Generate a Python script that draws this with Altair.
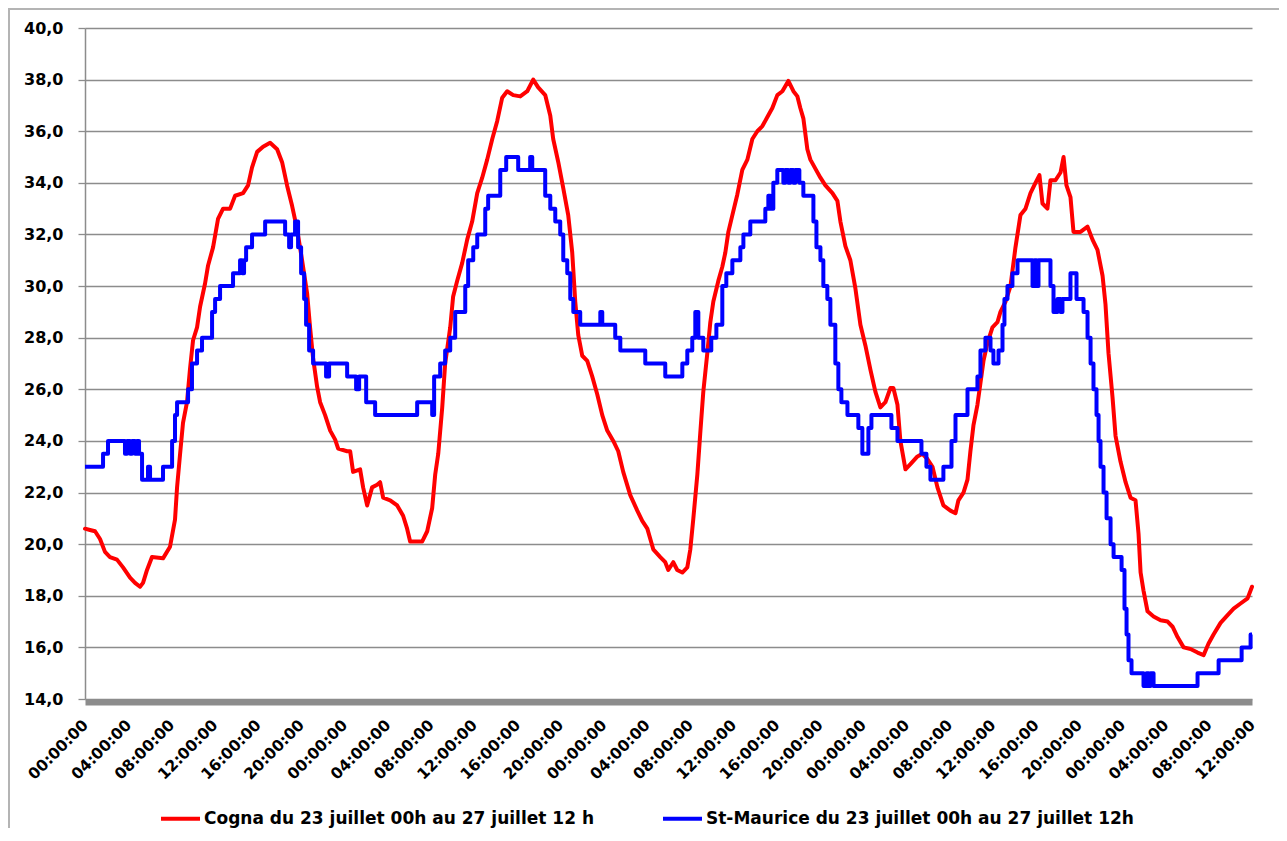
import altair as alt
import pandas as pd

# Time in hours since 23 July 00:00; temperatures in degrees C
red_t = [0.00,0.46,0.93,1.39,1.85,2.31,2.96,3.52,4.17,4.63,5.09,5.37,5.74,6.20,7.22,7.87,
         8.33,8.52,8.80,9.07,9.44,9.72,10.00,10.37,10.65,11.11,11.39,11.85,12.31,12.78,13.43,13.89,14.63,15.09,
         15.46,15.93,16.48,17.13,17.78,18.24,18.70,19.17,19.63,20.09,20.56,20.83,21.11,21.48,21.76,22.22,22.69,23.15,23.43,
         24.26,24.54,24.81,25.46,25.74,26.11,26.57,27.04,27.31,27.59,28.24,28.89,29.44,29.81,30.09,30.74,31.20,31.67,
         32.13,32.41,32.69,33.06,33.33,33.80,34.07,34.44,34.91,35.37,35.83,36.30,36.76,37.22,37.69,38.15,38.61,
         39.07,39.63,40.28,40.93,41.48,41.94,42.59,43.06,43.33,43.80,44.26,44.72,45.09,45.37,45.65,46.02,46.48,46.94,
         47.41,47.87,48.33,48.89,49.35,49.81,50.46,51.11,51.57,52.04,52.59,53.24,53.70,53.98,54.44,54.81,55.28,55.74,
         56.02,56.30,56.67,56.94,57.22,57.59,57.87,58.15,58.61,58.98,59.26,59.54,59.91,60.37,60.83,61.30,61.76,62.22,62.69,63.15,
         63.61,64.07,64.54,65.09,65.56,65.93,66.20,66.48,66.85,67.13,67.59,68.06,68.52,69.17,69.63,69.91,70.37,70.83,71.30,
         71.76,72.22,72.69,73.15,73.61,74.07,74.54,74.81,75.19,75.46,75.93,76.39,77.04,77.50,77.96,78.43,78.89,
         79.44,80.09,80.56,80.83,81.30,81.67,81.94,82.22,82.59,82.87,83.15,83.52,83.98,84.44,84.72,85.19,85.65,
         86.11,86.57,87.04,87.50,87.96,88.33,88.61,89.07,89.35,89.81,90.28,90.56,90.83,91.20,91.48,92.13,92.78,93.24,93.70,
         94.17,94.44,94.72,95.09,95.37,95.83,96.30,96.76,97.22,97.50,97.69,97.96,98.33,98.89,99.54,100.19,100.65,
         101.11,101.67,102.31,102.96,103.52,103.98,104.44,105.09,105.74,106.30,106.94,107.59,108.00]
red_v = [20.6,20.55,20.5,20.2,19.7,19.5,19.4,19.1,18.7,18.5,18.35,18.5,19.0,19.5,19.45,19.9,
         20.95,22.2,23.5,24.7,25.5,26.8,27.9,28.4,29.2,30.1,30.8,31.5,32.6,33.0,33.0,33.5,33.6,33.9,
         34.6,35.2,35.4,35.55,35.3,34.8,33.9,33.1,32.2,31.0,29.7,28.4,27.2,26.1,25.5,25.0,24.4,24.05,23.7,
         23.6,23.6,22.8,22.9,22.2,21.5,22.2,22.3,22.4,21.8,21.7,21.5,21.1,20.6,20.1,20.1,20.1,20.5,
         21.4,22.7,23.5,25.3,27.0,28.4,29.6,30.2,30.9,31.8,32.5,33.6,34.2,34.9,35.7,36.4,37.3,
         37.55,37.4,37.35,37.55,38.0,37.7,37.4,36.6,35.7,34.8,33.8,32.75,31.3,29.4,28.1,27.3,27.1,26.5,
         25.8,25.0,24.4,24.0,23.6,22.8,21.9,21.3,20.9,20.6,19.8,19.5,19.3,19.0,19.3,19.0,18.9,19.1,
         19.8,21.0,22.7,24.3,25.9,27.4,28.6,29.4,30.2,30.75,31.3,32.1,32.75,33.55,34.5,34.9,35.7,36.0,36.2,36.55,
         36.9,37.4,37.55,37.95,37.55,37.35,36.9,36.5,35.3,34.9,34.55,34.2,33.9,33.6,33.3,32.5,31.55,31.0,29.9,
         28.5,27.7,26.75,25.9,25.3,25.5,26.05,26.05,25.4,24.0,22.9,23.1,23.4,23.5,23.3,23.0,22.2,
         21.5,21.3,21.2,21.7,22.0,22.5,23.6,24.6,25.4,26.25,27.1,27.8,28.4,28.6,29.0,29.4,30.0,
         31.5,32.75,33.0,33.6,34.0,34.3,33.2,33.0,34.1,34.1,34.4,35.0,33.9,33.45,32.1,32.1,32.3,31.8,31.4,
         30.4,29.3,27.4,25.7,24.2,23.2,22.4,21.8,21.7,20.4,18.9,18.2,17.4,17.2,17.05,17.0,16.8,
         16.4,16.0,15.94,15.8,15.7,16.15,16.5,16.95,17.25,17.5,17.7,17.9,18.35]

blue_t = [0.00,1.67,2.13,3.70,3.89,4.17,4.35,4.63,4.81,5.00,5.28,5.83,6.02,7.22,8.06,8.33,8.52,9.54,9.90,10.37,
          10.83,11.76,12.04,12.50,13.70,14.35,14.54,14.72,14.91,15.46,16.67,18.52,18.89,19.07,19.44,19.72,20.00,20.28,20.46,20.74,
          21.11,22.31,22.59,24.26,25.09,25.37,26.02,26.85,30.74,32.13,32.31,32.87,33.33,33.80,34.26,35.19,35.46,35.93,36.30,37.04,
          37.31,38.43,38.98,40.09,41.20,41.39,42.59,43.06,43.52,43.98,44.26,44.63,44.91,45.19,45.83,47.69,47.87,49.07,49.54,51.85,
          53.70,55.28,55.74,56.20,56.48,56.76,57.22,57.96,58.43,58.98,59.35,59.91,60.65,60.93,61.57,62.96,63.24,63.43,63.70,64.07,
          64.63,64.81,65.09,65.28,65.56,65.74,66.11,66.48,67.41,67.69,68.06,68.33,68.70,68.98,69.44,69.72,70.00,70.56,71.57,71.94,
          72.50,72.78,74.63,75.19,77.41,77.87,78.24,79.44,80.19,80.56,81.67,82.59,82.87,83.33,83.80,84.07,84.54,84.91,85.09,85.37,
          85.83,86.30,87.69,87.87,88.06,88.24,89.35,89.63,90.00,90.28,90.46,91.20,91.76,92.41,92.78,93.06,93.33,93.61,93.80,93.98,
          94.26,94.54,94.91,95.19,95.93,96.20,96.39,96.57,96.85,97.96,98.24,98.43,98.61,98.89,102.96,104.91,107.04,107.87,108.00]
blue_v = [23.0,23.5,24.0,23.5,24.0,23.5,24.0,23.5,24.0,23.5,22.5,23.0,22.5,23.0,24.0,25.0,25.5,26.0,27.0,27.5,
          28.0,29.0,29.5,30.0,30.5,31.0,30.5,31.0,31.5,32.0,32.5,32.0,31.5,32.0,32.5,31.5,30.5,29.5,28.5,27.5,
          27.0,26.5,27.0,26.5,26.0,26.5,25.5,25.0,25.5,25.0,26.5,27.0,27.5,28.0,29.0,30.0,31.0,31.5,32.0,33.0,
          33.5,34.5,35.0,34.5,35.0,34.5,33.5,33.0,32.5,32.0,31.0,30.5,29.5,29.0,28.5,29.0,28.5,28.0,27.5,27.0,
          26.5,27.0,27.5,28.0,29.0,28.0,27.5,28.0,28.5,30.0,30.5,31.0,31.5,32.0,32.5,33.0,33.5,33.0,34.0,34.5,
          34.0,34.5,34.0,34.5,34.0,34.5,34.0,33.5,32.5,31.5,31.0,30.0,29.5,28.5,27.0,26.0,25.5,25.0,24.5,23.5,
          24.5,25.0,24.5,24.0,23.5,23.0,22.5,23.0,24.0,25.0,26.0,26.5,27.5,28.0,27.5,27.0,27.5,28.5,29.5,30.0,
          30.5,31.0,30.0,31.0,30.0,31.0,30.0,29.0,29.5,29.0,29.5,30.5,29.5,29.0,28.0,27.0,26.0,25.0,24.0,23.0,
          22.0,21.0,20.0,19.5,19.0,17.5,16.5,15.5,15.0,14.5,15.0,14.5,15.0,14.5,15.0,15.5,16.0,16.5,16.5]

assert len(red_t) == len(red_v)
assert len(blue_t) == len(blue_v)

x_ticks = list(range(0, 109, 4))
y_ticks = list(range(14, 41, 2))
S_RED = "Cogna du 23 juillet 00h au 27 juillet 12 h"
S_BLUE = "St-Maurice du 23 juillet 00h au 27 juillet 12h"

red_df = pd.DataFrame({"t": red_t, "v": red_v, "s": S_RED})
blue_df = pd.DataFrame({"t": blue_t, "v": blue_v, "s": S_BLUE})

FONT = "DejaVu Sans"
GRID = "#8c8c8c"

x_enc = alt.X(
    "t:Q",
    scale=alt.Scale(domain=[0, 108], nice=False, zero=False),
    axis=alt.Axis(
        values=x_ticks,
        labelExpr="(datum.value % 24 < 10 ? '0' : '') + (datum.value % 24) + ':00:00'",
        labelAngle=-45, labelAlign="right", labelBaseline="middle",
        labelFont=FONT, labelFontWeight="bold", labelFontSize=15.5, labelColor="#000000",
        labelPadding=20, labelFlush=False, labelOverlap=False, labelBound=False,
        ticks=False, grid=False, domainColor=GRID, domainWidth=6, offset=3, title=None,
    ),
)
y_enc = alt.Y(
    "v:Q",
    scale=alt.Scale(domain=[14, 40], nice=False, zero=False),
    axis=alt.Axis(
        values=y_ticks,
        labelExpr="replace(format(datum.value, '.1f'), '.', ',')",
        labelFont=FONT, labelFontWeight="bold", labelFontSize=16, labelColor="#000000",
        labelPadding=15, labelOverlap=False,
        tickSize=7, tickColor=GRID, tickWidth=1.3,
        domainColor=GRID, domainWidth=1.5,
        grid=True, gridColor=GRID, gridWidth=1.3, title=None,
    ),
)
color_enc = alt.Color(
    "s:N",
    scale=alt.Scale(domain=[S_RED, S_BLUE], range=["#ff0000", "#0000ff"]),
    legend=alt.Legend(
        orient="none", legendX=74, legendY=769, direction="horizontal", title=None,
        symbolType="stroke", symbolSize=1521, symbolStrokeWidth=4,
        labelFont=FONT, labelFontWeight="bold", labelFontSize=17, labelColor="#000000",
        labelOffset=2, columnPadding=61, labelLimit=1000, padding=0,
    ),
)

frame = alt.Chart(pd.DataFrame({"k": [0]})).mark_rect(
    fillOpacity=0, stroke="#b4b4b4", strokeWidth=2
).encode(
    x=alt.value(-76), x2=alt.value(1167 + 80),
    y=alt.value(-19), y2=alt.value(671 + 200),
)

red_line = alt.Chart(red_df).mark_line(
    strokeWidth=4, strokeJoin="round", strokeCap="round"
).encode(x=x_enc, y=y_enc, color=color_enc)

blue_line = alt.Chart(blue_df).mark_line(
    strokeWidth=4, strokeJoin="round", interpolate="step-after"
).encode(x=x_enc, y=y_enc, color=color_enc)

chart = alt.layer(frame, red_line, blue_line).properties(
    width=1167, height=671,
    autosize=alt.AutoSizeParams(type="none"),
    padding={"left": 77, "top": 20, "right": 27, "bottom": 129},
    background="white",
).configure_view(strokeWidth=0)

chart.save("out.html", embed_options={"renderer": "svg", "actions": False})
